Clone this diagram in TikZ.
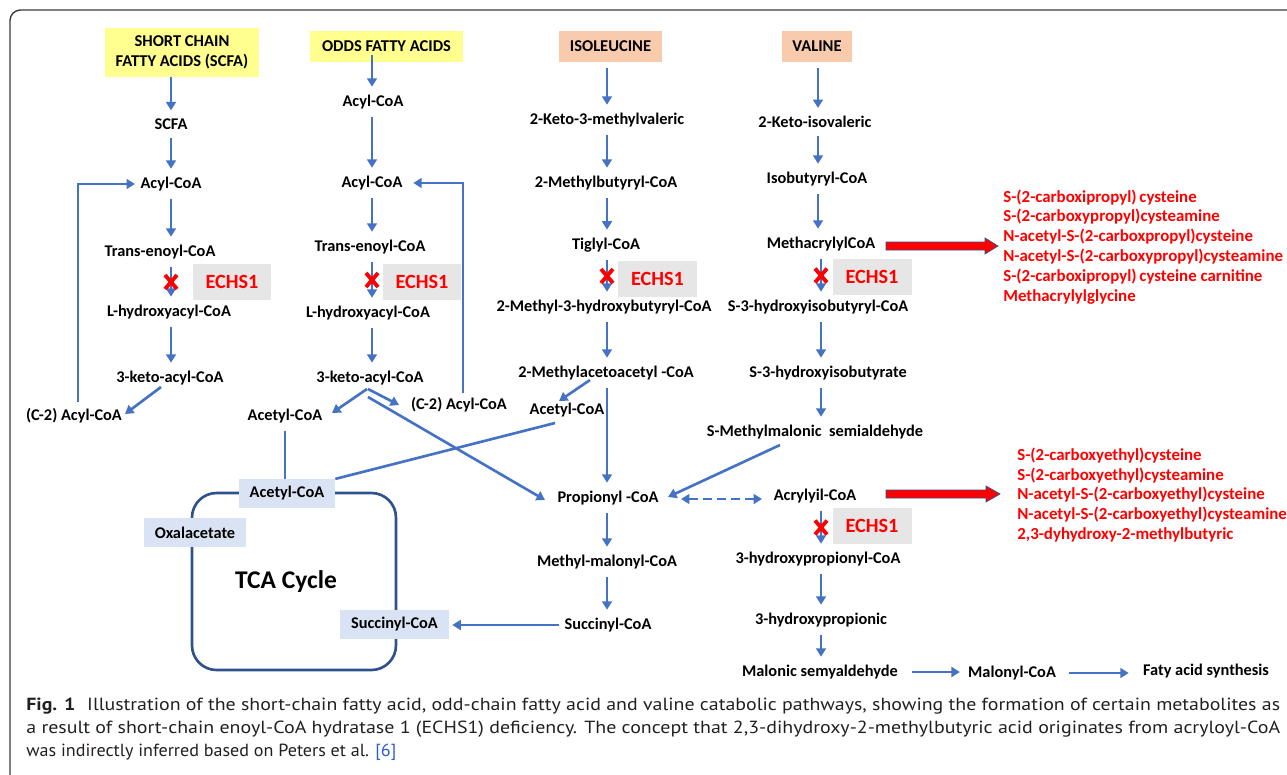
\documentclass[tikz,border=0pt]{standalone}
\usepackage{fontspec}
\usepackage{graphicx}
\setmainfont{Carlito}
\newfontfamily\capfont{PT Sans}
\usetikzlibrary{arrows.meta,calc}
\definecolor{arrblue}{HTML}{4472C4}
\definecolor{tcablue}{HTML}{2F528F}
\definecolor{boxblue}{HTML}{DAE3F3}
\definecolor{hdryellow}{HTML}{FFFF8F}
\definecolor{hdrsalmon}{HTML}{F8CBAD}
\definecolor{echsgray}{HTML}{E7E6E6}
\definecolor{capgray}{HTML}{231F20}
\definecolor{refblue}{HTML}{2B5BD7}
\definecolor{framegray}{HTML}{3A3A3A}
\newcommand{\echsx}[1]{\draw[xm] ($(#1)+(-6,-7)$) -- ($(#1)+(6,7)$) ($(#1)+(-6,7)$) -- ($(#1)+(6,-7)$);}
\begin{document}
\begin{tikzpicture}[x=0.02cm, y=-0.02cm,
  lab/.style={font=\fontsize{9.3}{11}\selectfont\bfseries, inner xsep=2pt, inner ysep=4.5pt, text=black},
  arr/.style={draw=arrblue, line width=1.5pt, -{Triangle[length=4.8pt,width=5.6pt]}},
  darr/.style={draw=arrblue, line width=1.5pt, dash pattern=on 5pt off 3pt, {Triangle[length=4.8pt,width=5.6pt]}-{Triangle[length=4.8pt,width=5.6pt]}},
  ln/.style={draw=arrblue, line width=1.5pt},
  hdr/.style={font=\fontsize{9.4}{11.3}\selectfont\bfseries, align=center, minimum height=0.62cm, inner sep=1pt},
  echs/.style={fill=echsgray, text=red, font=\fontsize{11.5}{12}\selectfont\bfseries, minimum width=1.58cm, minimum height=0.72cm, inner sep=0pt},
  tcabox/.style={fill=boxblue, font=\fontsize{9.3}{11}\selectfont\bfseries, minimum height=0.57cm, inner sep=0pt},
  xm/.style={draw=red, line width=2.2pt},
  redlist/.style={text=red, font=\fontsize{9.6}{11.34}\selectfont\bfseries, align=left, inner sep=0pt, anchor=west},
  redarrow/.style={fill=red, draw=tcablue, line width=0.4pt},
  captext/.style={font=\capfont\fontsize{10}{12}\selectfont, text=capgray, inner sep=0pt, anchor=west}]
\useasboundingbox (0,0) rectangle (1287,774);
\begin{scope}
  \clip (0,0) rectangle (1287,774);
  \draw[framegray, line width=0.8pt, rounded corners=6pt] (10,10) rectangle (1330,810);
\end{scope}

% column guide coordinates
\coordinate (cA) at (171,0);
\coordinate (cB) at (372,0);
\coordinate (cC) at (607,0);
\coordinate (cD) at (818,0);
\coordinate (cE) at (821,0);

% ---- column A : SCFA
\node[hdr, fill=hdryellow, minimum width=3.08cm, minimum height=0.98cm] (hdrA) at (182,52.5) {SHORT CHAIN\\FATTY ACIDS (SCFA)};
\node[lab] (scfa) at (171,124) {SCFA};
\node[lab] (acyl1) at (171,184) {Acyl-CoA};
\node[lab] (trans1) at (160,252) {Trans-enoyl-CoA};
\node[lab] (lhyd1) at (169,312) {L-hydroxyacyl-CoA};
\node[lab] (keto1) at (170,378) {3-keto-acyl-CoA};
\node[lab] (c2a) at (74,416) {(C-2) Acyl-CoA};
\node[echs] (echsA) at (232,281.5) {ECHS1};

% ---- column B : odd fatty acids
\node[hdr, fill=hdryellow, minimum width=3.06cm] (hdrB) at (386.5,46.5) {ODDS FATTY ACIDS};
\node[lab] (acylB0) at (373,102) {Acyl-CoA};
\node[lab] (acylB) at (372,183) {Acyl-CoA};
\node[lab] (transB) at (370,247) {Trans-enoyl-CoA};
\node[lab] (lhydB) at (368,313) {L-hydroxyacyl-CoA};
\node[lab] (ketoB) at (370,378) {3-keto-acyl-CoA};
\node[lab] (acetB) at (285,416) {Acetyl-CoA};
\node[lab] (c2b) at (459,405) {(C-2) Acyl-CoA};
\node[echs] (echsB) at (422,282) {ECHS1};

% ---- column C : isoleucine
\node[hdr, fill=hdrsalmon, minimum width=2.06cm] (hdrC) at (610.5,46.5) {ISOLEUCINE};
\node[lab] (kmv) at (607,120) {2-Keto-3-methylvaleric};
\node[lab] (mbc) at (606,183) {2-Methylbutyryl-CoA};
\node[lab] (tig) at (606,245) {Tiglyl-CoA};
\node[lab] (mhb) at (604,307) {2-Methyl-3-hydroxybutyryl-CoA};
\node[lab] (mac) at (606,373) {2-Methylacetoacetyl -CoA};
\node[lab] (acetC) at (567,410) {Acetyl-CoA};
\node[echs] (echsC) at (657.5,278.5) {ECHS1};
\node[lab] (prop) at (608,498) {Propionyl -CoA};
\node[lab] (mmc) at (607,562) {Methyl-malonyl-CoA};
\node[lab] (succ) at (608,625) {Succinyl-CoA};

% ---- column D : valine
\node[hdr, fill=hdrsalmon, minimum width=1.40cm] (hdrD) at (817,46.5) {VALINE};
\node[lab] (kiv) at (815,122) {2-Keto-isovaleric};
\node[lab] (ibc) at (817,179) {Isobutyryl-CoA};
\node[lab] (mcc) at (821,244) {MethacrylylCoA};
\node[lab] (shib) at (818,307) {S-3-hydroxyisobutyryl-CoA};
\node[lab] (shibr) at (828,373) {S-3-hydroxyisobutyrate};
\node[lab] (smm) at (815,432) {S-Methylmalonic\ \ semialdehyde};
\node[echs] (echsD) at (872,277) {ECHS1};
\node[lab] (acr) at (815,496) {Acrylyil-CoA};
\node[echs] (echsE) at (872,526) {ECHS1};
\node[lab] (hpc) at (818,559) {3-hydroxypropionyl-CoA};
\node[lab] (hpa) at (821,620) {3-hydroxypropionic};
\node[lab] (msa) at (820,672) {Malonic semyaldehyde};
\node[lab] (mal) at (1012,673) {Malonyl-CoA};
\node[lab] (fas) at (1206,671) {Faty acid synthesis};

% ---- red metabolite lists
\node[redlist] (redA) at (1003,247) {S-(2-carboxipropyl)\,cysteine\\S-(2-carboxypropyl)cysteamine\\N-acetyl-S-(2-carboxpropyl)cysteine\\N-acetyl-S-(2-carboxypropyl)cysteamine\\S-(2-carboxipropyl)\,cysteine carnitine\\Methacrylylglycine};
\node[redlist] (redB) at (1017,495) {S-(2-carboxyethyl)cysteine\\S-(2-carboxyethyl)cysteamine\\N-acetyl-S-(2-carboxyethyl)cysteine\\N-acetyl-S-(2-carboxyethyl)cysteamine\\2,3-dyhydroxy-2-methylbutyric};

% ---- TCA cycle
\draw[tcablue, line width=1.5pt, rounded corners=14pt] (192,493) rectangle (396,670);
\node[tcabox, minimum width=1.92cm] (tcaAcet) at (287,493.5) {Acetyl-CoA};
\node[tcabox, minimum width=2.04cm] (tcaOxa) at (195,532.5) {Oxalacetate};
\node[tcabox, minimum width=2.18cm] (tcaSucc) at (394.5,624.5) {Succinyl-CoA};
\node[font=\fontsize{14.5}{16}\selectfont\bfseries] (tcaLab) at (286,582) {TCA Cycle};

% ---- arrows column A
\draw[arr] (hdrA.south -| cA) -- (scfa.north -| cA);
\draw[arr] (scfa.south -| cA) -- (acyl1.north -| cA);
\draw[arr] (acyl1.south -| cA) -- (trans1.north -| cA);
\draw[arr] (trans1.south -| cA) -- (lhyd1.north -| cA);
\draw[arr] (lhyd1.south -| cA) -- (keto1.north -| cA);
\draw[arr] ($(keto1)+(-9,9)$) -- ($(c2a)+(51,-2)$);
\draw[arr, shorten >=1pt] ($(c2a)+(4,-14)$) |- (acyl1.west);
\echsx{$(trans1.south -| cA)!0.5!(lhyd1.north -| cA)$}

% ---- arrows column B
\draw[arr] ($(hdrB.south -| cB)+(0,-7)$) -- (acylB0.north -| cB);
\draw[arr] (acylB0.south -| cB) -- (acylB.north -| cB);
\draw[arr] (acylB.south -| cB) -- (transB.north -| cB);
\draw[arr] (transB.south -| cB) -- (lhydB.north -| cB);
\draw[arr] (lhydB.south -| cB) -- (ketoB.north -| cB);
\draw[arr] ($(ketoB)+(-3,11)$) -- ($(acetB)+(47,-3)$);
\draw[arr] ($(ketoB)+(-2,11)$) -- ($(c2b)+(-60,0)$);
\draw[arr] ($(ketoB)+(-2,19)$) -- ($(prop)+(-63,2)$);
\draw[arr, shorten >=4pt] ($(c2b)+(4,-12)$) |- (acylB.east);
\draw[ln] (acetB.south) -- (acetB.south |- tcaAcet.north);
\echsx{$(transB.south -| cB)!0.5!(lhydB.north -| cB)$}

% ---- arrows column C
\draw[arr] ($(hdrC.south -| cC)+(0,6)$) -- (kmv.north -| cC);
\draw[arr] (kmv.south -| cC) -- (mbc.north -| cC);
\draw[arr] (mbc.south -| cC) -- (tig.north -| cC);
\draw[arr] (tig.south -| cC) -- (mhb.north -| cC);
\draw[arr] (mhb.south -| cC) -- (mac.north -| cC);
\draw[arr] ($(mac)+(-16,7)$) -- ($(acetC)+(-8,-9)$);
\draw[arr] (mac.south -| cC) -- (prop.north -| cC);
\draw[ln] ($(acetC)+(-12,13)$) -- (tcaAcet.north east);
\draw[arr] (prop.south -| cC) -- (mmc.north -| cC);
\draw[arr] (mmc.south -| cC) -- (succ.north -| cC);
\draw[arr, shorten <=1pt, shorten >=1.7pt] (succ.west) -- (succ.west -| tcaSucc.east);
\echsx{$(tig.south -| cC)!0.5!(mhb.north -| cC)$}

% ---- arrows column D
\draw[arr] ($(hdrD.south -| cD)+(0,6)$) -- (kiv.north -| cD);
\draw[arr] (kiv.south -| cD) -- (ibc.north -| cD);
\draw[arr] (ibc.south -| cD) -- (mcc.north -| cD);
\draw[arr] (mcc.south -| cE) -- (shib.north -| cE);
\draw[arr] (shib.south -| cE) -- (shibr.north -| cE);
\draw[arr] (shibr.south -| cE) -- (smm.north -| cE);
\draw[arr] ($(smm)+(-35,13)$) -- ($(prop)+(60,-1)$);
\draw[darr] ($(prop)+(73,1)$) -- ($(acr)+(-53,3)$);
\draw[arr] (acr.south -| cE) -- (hpc.north -| cE);
\draw[arr] (hpc.south -| cE) -- (hpa.north -| cE);
\draw[arr] (hpa.south -| cE) -- (msa.north -| cE);
\draw[arr, shorten <=6pt, shorten >=2.5pt] (msa.east) -- (msa.east -| mal.west);
\draw[arr, shorten <=5pt, shorten >=6pt] (mal.east) -- (mal.east -| fas.west);
\echsx{$(mcc.south -| cE)!0.5!(shib.north -| cE)$}
\echsx{$(acr.south -| cE)!0.5!(hpc.north -| cE)$}

% ---- red arrows to metabolite lists
\draw[redarrow] ($(mcc)+(65,-2)$) -- ++(99,0) -- ++(0,-4) -- ++(13,8) -- ++(-13,8) -- ++(0,-4) -- ++(-99,0) -- cycle;
\draw[redarrow] ($(acr)+(71,-6)$) -- ++(100,0) -- ++(0,-4) -- ++(14,8) -- ++(-14,8) -- ++(0,-4) -- ++(-100,0) -- cycle;

% ---- caption
\node[captext] (cap1) at (26,706) {\resizebox{25.08cm}{\height}{\textbf{Fig. 1}\hspace{0.6em}Illustration of the short-chain fatty acid, odd-chain fatty acid and valine catabolic pathways, showing the formation of certain metabolites as}};
\node[captext] (cap2) at (26,729) {\resizebox{25.08cm}{\height}{a result of short-chain enoyl-CoA hydratase 1 (ECHS1) deficiency. The concept that 2,3-dihydroxy-2-methylbutyric acid originates from acryloyl-CoA}};
\node[captext] (cap3) at (26,752) {\resizebox{7.4cm}{\height}{was indirectly inferred based on Peters et al. {\color{refblue}[6]}}};
\end{tikzpicture}
\end{document}
